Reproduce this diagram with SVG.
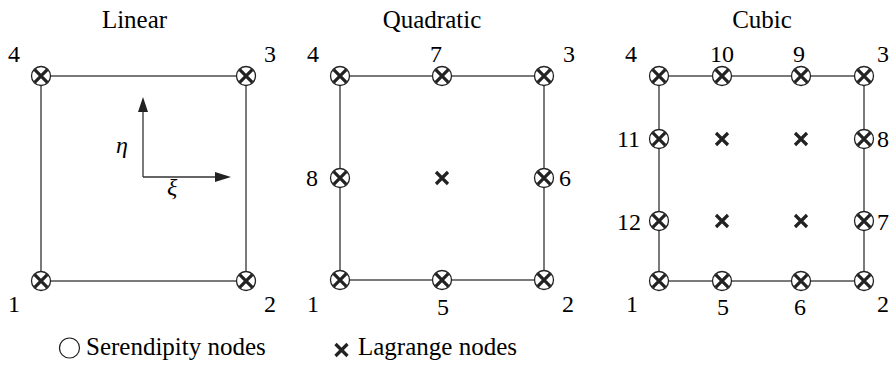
<svg xmlns="http://www.w3.org/2000/svg" width="889" height="365" viewBox="0 0 889 365">
<style>
  .e { stroke: #333; stroke-width: 1.3; fill: none; }
  .c { fill: #fff; stroke: #222; stroke-width: 1.3; }
  .x { stroke: #222; stroke-width: 3.2; fill: none; }
</style>
<rect width="889" height="365" fill="#fff"/>

<text x="134.5" y="28" font-family="Liberation Serif" font-size="25" text-anchor="middle">Linear</text>
<text x="432" y="28" font-family="Liberation Serif" font-size="25" text-anchor="middle">Quadratic</text>
<text x="762" y="28" font-family="Liberation Serif" font-size="25" text-anchor="middle">Cubic</text>

<!-- connectors -->
<g id="connectors">
  <rect class="e" x="41" y="76" width="205" height="205"/>
  <rect class="e" x="340" y="76" width="204" height="204"/>
  <rect class="e" x="659" y="76" width="205" height="205"/>
  <line class="e" x1="143" y1="177" x2="143" y2="108"/>
  <polygon points="143,97 138,112 148,112" fill="#222"/>
  <line class="e" x1="143" y1="177" x2="220" y2="177"/>
  <polygon points="231,177 215,172 215,182" fill="#222"/>
</g>
<text x="116" y="153" font-family="Liberation Serif" font-size="24" font-style="italic">η</text>
<text x="167" y="195" font-family="Liberation Serif" font-size="24" font-style="italic">ξ</text>

<!-- Linear nodes -->
<g id="lin-1"><circle class="c" cx="41" cy="281" r="9.5"/><path class="x" d="M34.7,274.7 L47.3,287.3 M47.3,274.7 L34.7,287.3"/><text x="8" y="312" font-family="Liberation Serif" font-size="24">1</text></g>
<g id="lin-2"><circle class="c" cx="246" cy="281" r="9.5"/><path class="x" d="M239.7,274.7 L252.3,287.3 M252.3,274.7 L239.7,287.3"/><text x="264" y="312" font-family="Liberation Serif" font-size="24">2</text></g>
<g id="lin-3"><circle class="c" cx="246" cy="76" r="9.5"/><path class="x" d="M239.7,69.7 L252.3,82.3 M252.3,69.7 L239.7,82.3"/><text x="264" y="62" font-family="Liberation Serif" font-size="24">3</text></g>
<g id="lin-4"><circle class="c" cx="41" cy="76" r="9.5"/><path class="x" d="M34.7,69.7 L47.3,82.3 M47.3,69.7 L34.7,82.3"/><text x="8" y="62" font-family="Liberation Serif" font-size="24">4</text></g>

<!-- Quadratic nodes -->
<g id="quad-1"><circle class="c" cx="340" cy="280" r="9.5"/><path class="x" d="M333.7,273.7 L346.3,286.3 M346.3,273.7 L333.7,286.3"/><text x="307" y="312" font-family="Liberation Serif" font-size="24">1</text></g>
<g id="quad-2"><circle class="c" cx="544" cy="280" r="9.5"/><path class="x" d="M537.7,273.7 L550.3,286.3 M550.3,273.7 L537.7,286.3"/><text x="562" y="312" font-family="Liberation Serif" font-size="24">2</text></g>
<g id="quad-3"><circle class="c" cx="544" cy="76" r="9.5"/><path class="x" d="M537.7,69.7 L550.3,82.3 M550.3,69.7 L537.7,82.3"/><text x="563" y="62" font-family="Liberation Serif" font-size="24">3</text></g>
<g id="quad-4"><circle class="c" cx="340" cy="76" r="9.5"/><path class="x" d="M333.7,69.7 L346.3,82.3 M346.3,69.7 L333.7,82.3"/><text x="307" y="62" font-family="Liberation Serif" font-size="24">4</text></g>
<g id="quad-5"><circle class="c" cx="442" cy="280" r="9.5"/><path class="x" d="M435.7,273.7 L448.3,286.3 M448.3,273.7 L435.7,286.3"/><text x="437" y="315" font-family="Liberation Serif" font-size="24">5</text></g>
<g id="quad-6"><circle class="c" cx="544" cy="178" r="9.5"/><path class="x" d="M537.7,171.7 L550.3,184.3 M550.3,171.7 L537.7,184.3"/><text x="559" y="186" font-family="Liberation Serif" font-size="24">6</text></g>
<g id="quad-7"><circle class="c" cx="442" cy="76" r="9.5"/><path class="x" d="M435.7,69.7 L448.3,82.3 M448.3,69.7 L435.7,82.3"/><text x="430" y="62" font-family="Liberation Serif" font-size="24">7</text></g>
<g id="quad-8"><circle class="c" cx="340" cy="178" r="9.5"/><path class="x" d="M333.7,171.7 L346.3,184.3 M346.3,171.7 L333.7,184.3"/><text x="306" y="186" font-family="Liberation Serif" font-size="24">8</text></g>
<g id="quad-9"><path class="x" d="M436,172 L448,184 M448,172 L436,184"/></g>

<!-- Cubic nodes -->
<g id="cub-1"><circle class="c" cx="659" cy="281" r="9.5"/><path class="x" d="M652.7,274.7 L665.3,287.3 M665.3,274.7 L652.7,287.3"/><text x="626" y="312" font-family="Liberation Serif" font-size="24">1</text></g>
<g id="cub-2"><circle class="c" cx="864" cy="281" r="9.5"/><path class="x" d="M857.7,274.7 L870.3,287.3 M870.3,274.7 L857.7,287.3"/><text x="877" y="312" font-family="Liberation Serif" font-size="24">2</text></g>
<g id="cub-3"><circle class="c" cx="864" cy="76" r="9.5"/><path class="x" d="M857.7,69.7 L870.3,82.3 M870.3,69.7 L857.7,82.3"/><text x="877" y="62" font-family="Liberation Serif" font-size="24">3</text></g>
<g id="cub-4"><circle class="c" cx="659" cy="76" r="9.5"/><path class="x" d="M652.7,69.7 L665.3,82.3 M665.3,69.7 L652.7,82.3"/><text x="625" y="62" font-family="Liberation Serif" font-size="24">4</text></g>
<g id="cub-5"><circle class="c" cx="722" cy="281" r="9.5"/><path class="x" d="M715.7,274.7 L728.3,287.3 M728.3,274.7 L715.7,287.3"/><text x="717" y="315" font-family="Liberation Serif" font-size="24">5</text></g>
<g id="cub-6"><circle class="c" cx="801" cy="281" r="9.5"/><path class="x" d="M794.7,274.7 L807.3,287.3 M807.3,274.7 L794.7,287.3"/><text x="794" y="315" font-family="Liberation Serif" font-size="24">6</text></g>
<g id="cub-7"><circle class="c" cx="864" cy="221" r="9.5"/><path class="x" d="M857.7,214.7 L870.3,227.3 M870.3,214.7 L857.7,227.3"/><text x="877" y="230" font-family="Liberation Serif" font-size="24">7</text></g>
<g id="cub-8"><circle class="c" cx="864" cy="139" r="9.5"/><path class="x" d="M857.7,132.7 L870.3,145.3 M870.3,132.7 L857.7,145.3"/><text x="877" y="147" font-family="Liberation Serif" font-size="24">8</text></g>
<g id="cub-9"><circle class="c" cx="801" cy="76" r="9.5"/><path class="x" d="M794.7,69.7 L807.3,82.3 M807.3,69.7 L794.7,82.3"/><text x="793" y="62" font-family="Liberation Serif" font-size="24">9</text></g>
<g id="cub-10"><circle class="c" cx="722" cy="76" r="9.5"/><path class="x" d="M715.7,69.7 L728.3,82.3 M728.3,69.7 L715.7,82.3"/><text x="710" y="62" font-family="Liberation Serif" font-size="24">10</text></g>
<g id="cub-11"><circle class="c" cx="659" cy="139" r="9.5"/><path class="x" d="M652.7,132.7 L665.3,145.3 M665.3,132.7 L652.7,145.3"/><text x="617" y="147" font-family="Liberation Serif" font-size="24">11</text></g>
<g id="cub-12"><circle class="c" cx="659" cy="221" r="9.5"/><path class="x" d="M652.7,214.7 L665.3,227.3 M665.3,214.7 L652.7,227.3"/><text x="617" y="230" font-family="Liberation Serif" font-size="24">12</text></g>
<g id="cub-13"><path class="x" d="M716,133 L728,145 M728,133 L716,145"/></g>
<g id="cub-14"><path class="x" d="M795,133 L807,145 M807,133 L795,145"/></g>
<g id="cub-15"><path class="x" d="M716,215 L728,227 M728,215 L716,227"/></g>
<g id="cub-16"><path class="x" d="M795,215 L807,227 M807,215 L795,227"/></g>

<!-- legend -->
<g id="legend">
  <circle cx="69.5" cy="348" r="10" fill="none" stroke="#222" stroke-width="1.2"/>
  <text x="86" y="355" font-family="Liberation Serif" font-size="25">Serendipity nodes</text>
  <path class="x" d="M335.5,344 L347.5,356 M347.5,344 L335.5,356"/>
  <text x="358" y="355" font-family="Liberation Serif" font-size="25">Lagrange nodes</text>
</g>
</svg>
